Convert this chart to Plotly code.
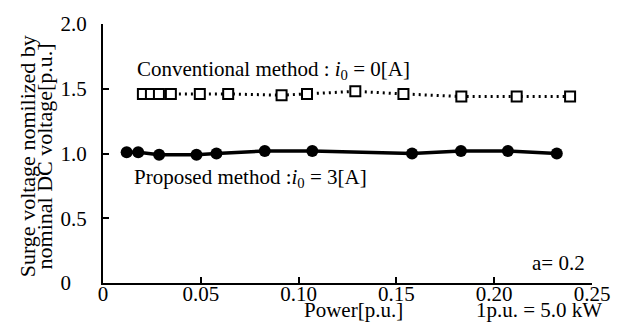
import plotly.graph_objects as go

# Surge voltage vs. output power, a = 0.2
conv_power = [0.0204, 0.0245, 0.0286, 0.0347, 0.0495, 0.064, 0.0913, 0.1043,
              0.129, 0.1536, 0.1832, 0.2115, 0.2388]
conv_surge = [1.46, 1.46, 1.46, 1.46, 1.46, 1.46, 1.45, 1.46,
              1.48, 1.46, 1.44, 1.44, 1.44]

prop_power = [0.0121, 0.018, 0.0287, 0.0478, 0.058, 0.0827, 0.107,
              0.158, 0.183, 0.207, 0.232]
prop_surge = [1.01, 1.01, 0.99, 0.99, 1.00, 1.02, 1.02,
              1.00, 1.02, 1.02, 1.00]

x_ticks = [0, 0.05, 0.10, 0.15, 0.20, 0.25]
x_tick_text = ["0", "0.05", "0.10", "0.15", "0.20", "0.25"]
y_ticks = [0, 0.5, 1.0, 1.5, 2.0]
y_tick_text = ["0\u00a0\u00a0\u00a0", "0.5", "1.0", "1.5", "2.0"]

FONT = "Liberation Serif, Times New Roman, serif"
FS = 21

fig = go.Figure()

fig.add_trace(go.Scatter(
    x=conv_power, y=conv_surge, mode="lines+markers",
    line=dict(color="black", width=3, dash="2px,4px"),
    marker=dict(symbol="square", size=10, color="white",
                line=dict(color="black", width=2)),
    showlegend=False,
))

fig.add_trace(go.Scatter(
    x=prop_power, y=prop_surge, mode="lines+markers",
    line=dict(color="black", width=3.5),
    marker=dict(symbol="circle", size=12, color="black"),
    showlegend=False,
))

# an empty trace on the overlaid axis that carries the x tick labels
fig.add_trace(go.Scatter(x=[], y=[], xaxis="x2", showlegend=False,
                         hoverinfo="skip"))

tick_font = dict(family=FONT, size=FS, color="black")

fig.update_layout(
    width=622, height=331,
    margin=dict(l=103, r=29, t=16, b=48),
    paper_bgcolor="white", plot_bgcolor="white",
    font=dict(family=FONT, size=FS, color="black"),
    xaxis=dict(
        range=[0, 0.25], tickvals=x_ticks,
        showticklabels=False,
        showgrid=False, zeroline=False, showline=True,
        linecolor="black", linewidth=2,
        ticks="inside", ticklen=6, tickwidth=2, tickcolor="black",
    ),
    # tick labels sit close under the axis line
    xaxis2=dict(
        range=[0, 0.25], tickvals=x_ticks, ticktext=x_tick_text,
        tickfont=tick_font, overlaying="x", anchor="free", position=0.017,
        showgrid=False, zeroline=False, showline=False, ticks="",
        ticklabelstandoff=0,
    ),
    yaxis=dict(
        range=[0, 2.0], tickvals=y_ticks, ticktext=y_tick_text,
        tickfont=tick_font,
        showgrid=False, zeroline=False, showline=True,
        linecolor="black", linewidth=2,
        ticks="inside", ticklen=6, tickwidth=2, tickcolor="black",
        ticklabelstandoff=10,
    ),
)

# paper coordinates are relative to the plotting area (103..593 px, 16..283 px)
annotations = [
    dict(x=0.0163, y=1.648, xref="x", yref="y", xanchor="left", yanchor="middle",
         text="Conventional method : <i>i</i><sub>0</sub> = 0[A]", size=FS),
    dict(x=0.0148, y=0.81, xref="x", yref="y", xanchor="left", yanchor="middle",
         text="Proposed method :<i>i</i><sub>0</sub> = 3[A]", size=FS),
    dict(x=0.2327, y=0.157, xref="x", yref="y", xanchor="center", yanchor="middle",
         text="a= 0.2", size=FS),
    dict(x=0.512, y=-0.105, xref="paper", yref="paper",
         xanchor="center", yanchor="middle", text="Power[p.u.]", size=FS),
    dict(x=1.0245, y=-0.105, xref="paper", yref="paper",
         xanchor="right", yanchor="middle", text="1p.u. = 5.0 kW", size=FS),
    dict(x=-0.155, y=0.49, xref="paper", yref="paper",
         xanchor="center", yanchor="middle", textangle=-90,
         text="Surge voltage nomilized by", size=22),
    dict(x=-0.12, y=0.49, xref="paper", yref="paper",
         xanchor="center", yanchor="middle", textangle=-90,
         text="nominal DC voltage[p.u.]", size=22),
]
for a in annotations:
    sz = a.pop("size")
    a.update(showarrow=False, font=dict(family=FONT, size=sz, color="black"))
fig.update_layout(annotations=annotations)

fig.write_html("out.html")
